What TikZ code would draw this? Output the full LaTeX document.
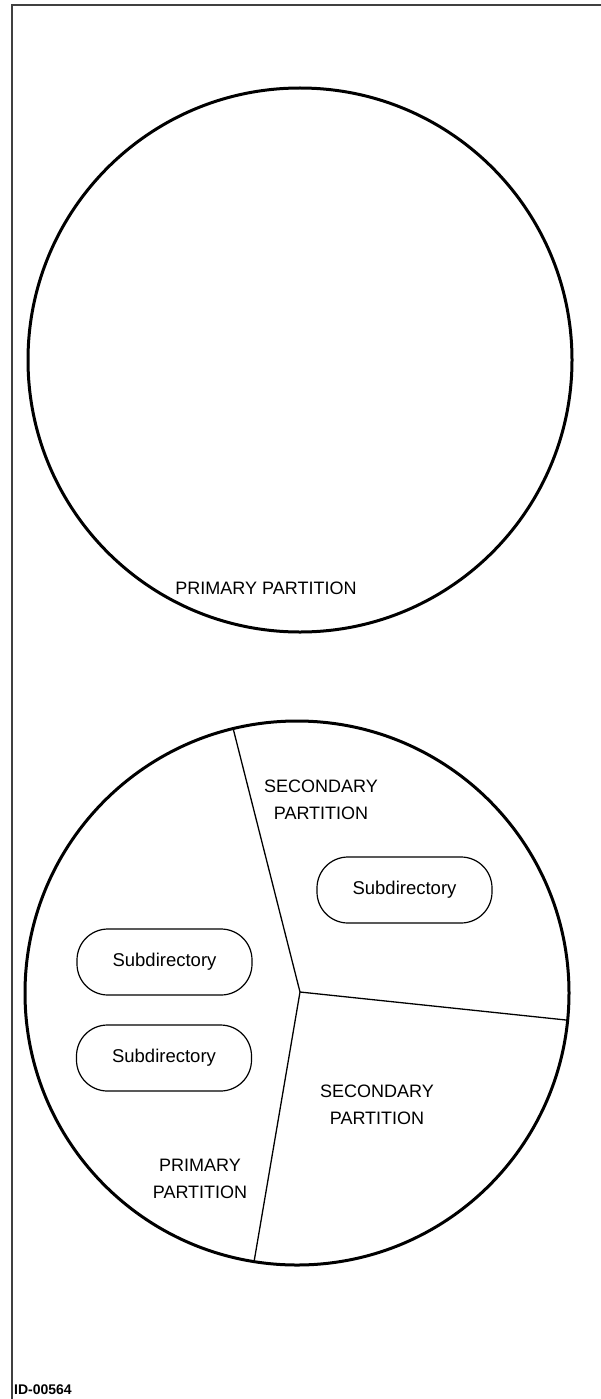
\documentclass[tikz,border=0pt]{standalone}
\usepackage{fontspec}
\setmainfont{Liberation Sans}
\usetikzlibrary{positioning}
\tikzset{
  disk/.style={line width=3pt},
  spoke/.style={line width=1.3pt},
  subdir/.style={draw, line width=1.2pt, rounded corners=31pt,
    minimum width=175pt, minimum height=66pt, inner sep=0pt,
    font=\fontsize{18.5}{22}\selectfont},
  parttext/.style={align=center, inner sep=0pt,
    font=\fontsize{18}{27}\selectfont}
}
\begin{document}
\begin{tikzpicture}[x=1pt,y=-1pt]
\useasboundingbox (0,0) rectangle (601,1399);
% Frame
  \draw[line width=1.2pt, black!75] (12,1399) -- (12,5) -- (601,5);
% Disk with one partition
  \draw[disk] (300,360) circle (272pt);
  \node[parttext] (primTop) at (266,588) {PRIMARY PARTITION};
% Disk split in three
  \draw[disk] (297,993) circle (272pt);
  \coordinate (hub) at (300,992);
  \coordinate (spokeT) at (233,728);
  \coordinate (spokeR) at (566,1020);
  \coordinate (spokeB) at (254,1262);
  \draw[spoke] (hub) -- (spokeT);
  \draw[spoke] (hub) -- (spokeR);
  \draw[spoke] (hub) -- (spokeB);
%
  \node[parttext] (secUp) at (321,800) {SECONDARY\\PARTITION};
  \node[subdir] (subUp) at (404.5,890) {Subdirectory};
  \node[subdir] (subA) at (164.5,962) {Subdirectory};
  \node[subdir] (subB) at (164,1058) {Subdirectory};
  \node[parttext] (secLow) at (377,1105) {SECONDARY\\PARTITION};
  \node[parttext] (primLow) at (200,1179) {PRIMARY\\PARTITION};
% Figure id
  \node[anchor=base west, inner sep=0pt,
    font=\bfseries\fontsize{14}{16}\selectfont] (figId) at (14,1394) {ID-00564};
\end{tikzpicture}
\end{document}
